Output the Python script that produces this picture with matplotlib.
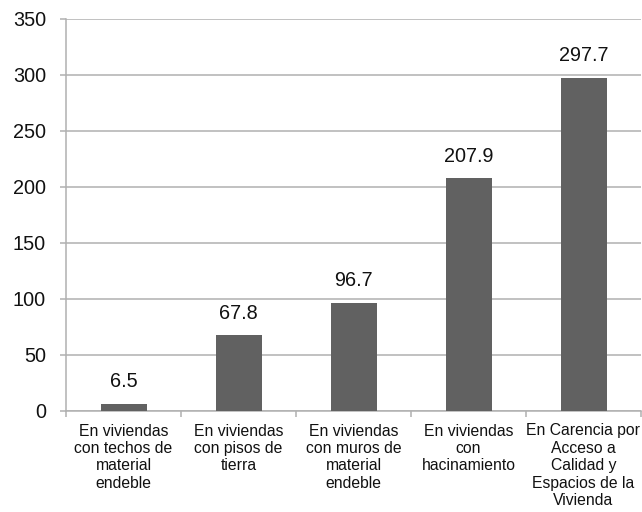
import numpy as np
import matplotlib
matplotlib.use("Agg")
import matplotlib.pyplot as plt

plt.rcParams["font.family"] = ["Liberation Sans", "DejaVu Sans"]

# Data
categories = [
    "En viviendas\ncon techos de\nmaterial\nendeble",
    "En viviendas\ncon pisos de\ntierra",
    "En viviendas\ncon muros de\nmaterial\nendeble",
    "En viviendas\ncon\nhacinamiento",
    "En Carencia por\nAcceso a\nCalidad y\nEspacios de la\nVivienda",
]
values = [6.5, 67.8, 96.7, 207.9, 297.7]
value_labels = ["6.5", "67.8", "96.7", "207.9", "297.7"]
y_ticks = [0, 50, 100, 150, 200, 250, 300, 350]

line_col = "#b0b0b0"
bar_col = "#616161"

fig = plt.figure(figsize=(6.42, 5.12), dpi=100)
ax = fig.add_axes([66 / 642, 1 - 411 / 512, 575 / 642, 392 / 512])

x = np.arange(len(values))
ax.bar(x, values, width=0.4, color=bar_col, zorder=3)

for xi, v, lab in zip(x, values, value_labels):
    ax.annotate(lab, (xi, v), xytext=(0, 11.8), textcoords="offset points",
                ha="center", va="baseline", fontsize=14.3, color="#111111")

ax.set_ylim(0, 350)
ax.set_xlim(-0.5, len(values) - 0.5)
ax.set_yticks(y_ticks)
ax.yaxis.grid(True, color=line_col, linewidth=1.1, zorder=0)
ax.tick_params(axis="y", length=4.5, width=1.1, color=line_col,
               labelsize=14.3, pad=10, labelcolor="#111111")

# category boundaries as major ticks, labels on minor ticks
ax.set_xticks(np.arange(-0.5, len(values)))
ax.set_xticklabels([])
ax.set_xticks(x, minor=True)
ax.set_xticklabels(categories, minor=True, fontsize=11.3, linespacing=1.2,
                   color="#111111")
ax.tick_params(axis="x", which="major", length=4, width=1.1, color=line_col)
ax.tick_params(axis="x", which="minor", length=0, pad=9)

for s in ["top", "right"]:
    ax.spines[s].set_visible(False)
for s in ["left", "bottom"]:
    ax.spines[s].set_color(line_col)
    ax.spines[s].set_linewidth(1.1)

fig.savefig("out.png", dpi=100)
